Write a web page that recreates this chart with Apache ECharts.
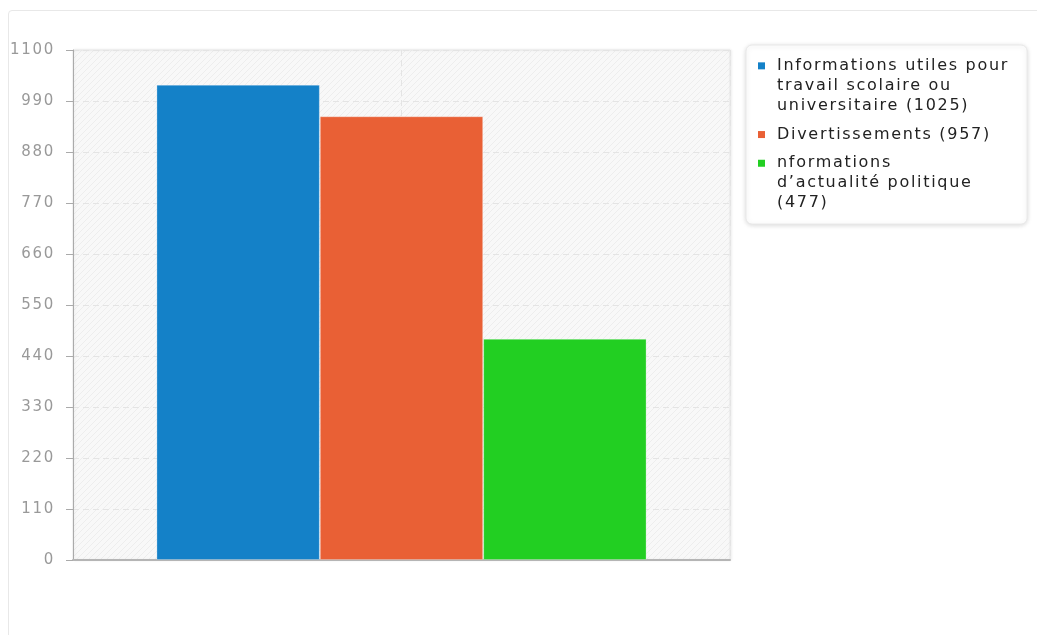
<!DOCTYPE html>
<html>
<head>
<meta charset="utf-8">
<script src="https://cdn.jsdelivr.net/npm/echarts@6/dist/echarts.min.js"></script>
<style>
  html, body { margin: 0; padding: 0; background: #fff; }
  #frame { position: absolute; left: 8px; top: 10px; width: 1100px; height: 700px;
           border: 1px solid #e8e8e8; border-radius: 4px; }
  #chart { position: absolute; left: 0; top: 0; width: 1037px; height: 635px; }
</style>
</head>
<body>
<div id="frame"></div>
<div id="chart"></div>
<script>
const categories = [''];
const seriesNames = [
  'Informations utiles pour travail scolaire ou universitaire',
  'Divertissements',
  'nformations d\u2019actualité politique'
];
const legendLines = [
  ['Informations utiles pour', 'travail scolaire ou', 'universitaire (1025)'],
  ['Divertissements (957)'],
  ['nformations', 'd\u2019actualité politique', '(477)']
];
const values = [1025, 957, 477];
const colors = ['#1481c8', '#e96035', '#22cf22'];
const yTicks = { min: 0, max: 1100, interval: 110 };

// the original renders text with wide letter spacing; canvas can do that
const fontDesc = Object.getOwnPropertyDescriptor(CanvasRenderingContext2D.prototype, 'font');
Object.defineProperty(CanvasRenderingContext2D.prototype, 'font', {
  configurable: true,
  get: fontDesc.get,
  set(v) { fontDesc.set.call(this, v); if ('letterSpacing' in this) this.letterSpacing = '1.7px'; }
});

function hatch() {
  const c = document.createElement('canvas');
  c.width = 6; c.height = 6;
  const g = c.getContext('2d');
  g.fillStyle = '#f8f8f8';
  g.fillRect(0, 0, 6, 6);
  g.strokeStyle = '#ededed';
  g.lineWidth = 1;
  g.beginPath();
  g.moveTo(0, 6); g.lineTo(6, 0);
  g.moveTo(-1, 1); g.lineTo(1, -1);
  g.moveTo(5, 7); g.lineTo(7, 5);
  g.stroke();
  return c;
}

const chart = echarts.init(document.getElementById('chart'));

const rich = { t: { fontSize: 16, lineHeight: 20, color: '#222', fontFamily: 'DejaVu Sans' },
               p: { width: 19, height: 7, lineHeight: 20 } };
colors.forEach((c, i) => {
  rich['s' + i] = { width: 7, height: 7, backgroundColor: c, lineHeight: 20 };
  rich['g' + i] = { width: 12, lineHeight: 20 };
});

chart.setOption({
  animation: false,
  textStyle: { fontFamily: 'DejaVu Sans' },
  grid: {
    left: 73, top: 50, right: 307, bottom: 75,
    show: true,
    backgroundColor: { image: hatch(), repeat: 'repeat' },
    borderColor: '#e6e6e6', borderWidth: 1,
    shadowColor: 'rgba(0,0,0,0.08)', shadowBlur: 3, shadowOffsetX: 1
  },
  legend: {
    orient: 'vertical', left: 746, top: 45,
    padding: [12, 18, 12, 5],
    itemGap: 11,
    itemWidth: 1, itemHeight: 1, icon: 'rect',
    itemStyle: { opacity: 0 },
    backgroundColor: '#fff', borderColor: '#e8e8e8', borderWidth: 1, borderRadius: 6,
    shadowColor: 'rgba(0,0,0,0.15)', shadowBlur: 5, shadowOffsetY: 1,
    textStyle: { rich: rich },
    data: seriesNames,
    formatter: function (name) {
      const i = seriesNames.indexOf(name);
      return legendLines[i].map((l, k) =>
        (k === 0 ? '{s' + i + '|}{g' + i + '|}' : '{p|}') + '{t|' + l + '}'
      ).join('\n');
    }
  },
  xAxis: [
    {
      type: 'category', data: categories,
      axisLine: { lineStyle: { color: '#b5b5b5', width: 2 } },
      axisTick: { show: false }, axisLabel: { show: false },
      splitLine: { show: false }
    },
    {
      type: 'value', min: -1, max: 1, interval: 1,
      axisLine: { show: false }, axisTick: { show: false }, axisLabel: { show: false },
      splitLine: { show: true, lineStyle: { color: '#e4e4e4', type: [6, 4] } }
    }
  ],
  yAxis: {
    type: 'value', min: yTicks.min, max: yTicks.max, interval: yTicks.interval,
    axisLine: { show: true, onZero: false, lineStyle: { color: '#aaa' } },
    axisTick: { show: true, length: 7, lineStyle: { color: '#aaa' } },
    axisLabel: { color: '#999', fontSize: 15, margin: 18, fontFamily: 'DejaVu Sans',
                 formatter: v => String(v) },
    splitLine: { lineStyle: { color: '#e4e4e4', type: [6, 4] } }
  },
  series: seriesNames.map((n, i) => ({
    name: n, type: 'bar', data: [values[i]],
    barGap: 0, barCategoryGap: '25.4%',
    itemStyle: { color: colors[i], borderColor: 'rgba(255,255,255,0.25)', borderWidth: 1 }
  }))
});
</script>
</body>
</html>
